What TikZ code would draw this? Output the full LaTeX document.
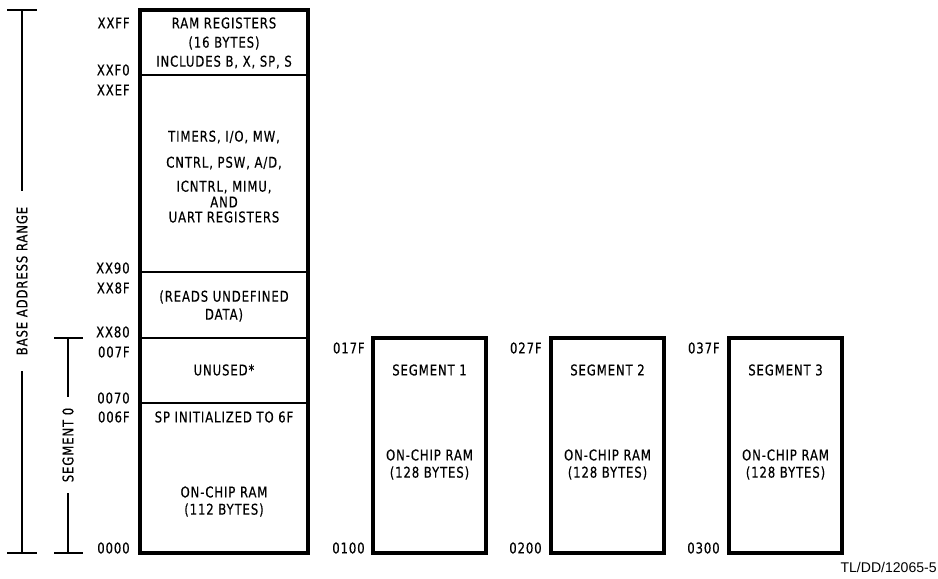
\documentclass[tikz,border=0pt]{standalone}
\usepackage{fontspec}
\usepackage{tikz}
\newfontfamily\cadfont[FakeStretch=0.79, LetterSpace=6, FakeBold=0.4]{DejaVu Sans}
\newfontfamily\tagfont{Liberation Sans}
\newcommand{\mapfont}{\cadfont\fontsize{8.4}{9}\selectfont}

\begin{document}
\begin{tikzpicture}[
  x=0.2mm, y=-0.2mm,
  every node/.style={font=\mapfont},
  addr/.style={anchor=east, inner sep=0pt},
  txt/.style={inner sep=0pt},
  outline/.style={line width=2.2pt},
  divider/.style={line width=1.3pt},
  bracketline/.style={line width=0.7pt},
  sidelabel/.style={rotate=90, inner sep=0pt}
]
  \useasboundingbox (0,0) rectangle (938,578);

  % base memory block
  \draw[outline] (140,10) rectangle (308,553);
  \draw[divider] (140,75) -- (308,75);
  \draw[divider] (140,272) -- (308,272);
  \draw[divider] (140,338) -- (308,338);
  \draw[divider] (140,403) -- (308,403);

  \node[txt] (regs1) at (224,23) {RAM REGISTERS};
  \node[txt] (regs2) at (224,43) {(16 BYTES)};
  \node[txt] (regs3) at (224,62) {INCLUDES B, X, SP, S};
  \node[txt] (io1) at (224,137) {TIMERS, I/O, MW,};
  \node[txt] (io2) at (224,163) {CNTRL, PSW, A/D,};
  \node[txt] (io3) at (224,187) {ICNTRL, MIMU,};
  \node[txt] (io4) at (224,202) {AND};
  \node[txt] (io5) at (224,217) {UART REGISTERS};
  \node[txt] (undef1) at (224,297) {(READS UNDEFINED};
  \node[txt] (undef2) at (224,315) {DATA)};
  \node[txt] (unused) at (224,370) {UNUSED*};
  \node[txt] (spinit) at (224,417) {SP INITIALIZED TO 6F};
  \node[txt] (ram1) at (224,492) {ON-CHIP RAM};
  \node[txt] (ram2) at (224,510) {(112 BYTES)};

  \node[addr] (xxff) at (130,23) {XXFF};
  \node[addr] (xxf0) at (130,70) {XXF0};
  \node[addr] (xxef) at (130,90) {XXEF};
  \node[addr] (xx90) at (130,268) {XX90};
  \node[addr] (xx8f) at (130,288) {XX8F};
  \node[addr] (xx80) at (130,332) {XX80};
  \node[addr] (a07f) at (130,352) {007F};
  \node[addr] (a070) at (130,398) {0070};
  \node[addr] (a06f) at (130,417) {006F};
  \node[addr] (a000) at (130,548) {0000};

  % segments 1 to 3
  \draw[outline] (373,338) rectangle (486,553);
  \draw[outline] (551,338) rectangle (664,553);
  \draw[outline] (729,338) rectangle (842,553);

  \node[txt] (seg1) at (429.5,370) {SEGMENT 1};
  \node[txt] (seg1a) at (429.5,455) {ON-CHIP RAM};
  \node[txt] (seg1b) at (429.5,473) {(128 BYTES)};
  \node[txt] (seg2) at (607.5,370) {SEGMENT 2};
  \node[txt] (seg2a) at (607.5,455) {ON-CHIP RAM};
  \node[txt] (seg2b) at (607.5,473) {(128 BYTES)};
  \node[txt] (seg3) at (785.5,370) {SEGMENT 3};
  \node[txt] (seg3a) at (785.5,455) {ON-CHIP RAM};
  \node[txt] (seg3b) at (785.5,473) {(128 BYTES)};

  \node[addr] (a17f) at (365,348) {017F};
  \node[addr] (a100) at (365,548) {0100};
  \node[addr] (a27f) at (542,348) {027F};
  \node[addr] (a200) at (542,548) {0200};
  \node[addr] (a37f) at (720,348) {037F};
  \node[addr] (a300) at (720,548) {0300};

  % range markers on the left
  \node[sidelabel] (base) at (22,281) {BASE ADDRESS RANGE};
  \coordinate (basetop) at (22,10);
  \coordinate (basebot) at (22,553);
  \draw[bracketline] (7,10) -- (37,10);
  \draw[bracketline] (7,553) -- (37,553);
  \draw[bracketline] (basetop) -- ([yshift=3mm]base.east);
  \draw[bracketline] (basebot) -- ([yshift=-3mm]base.west);

  \node[sidelabel] (seg0) at (68,445) {SEGMENT 0};
  \coordinate (segtop) at (68,338);
  \coordinate (segbot) at (68,553);
  \draw[bracketline] (54,338) -- (83,338);
  \draw[bracketline] (54,553) -- (83,553);
  \draw[bracketline] (segtop) -- ([yshift=2mm]seg0.east);
  \draw[bracketline] (segbot) -- ([yshift=-2mm]seg0.west);

  \node[anchor=east, inner sep=0pt, font=\tagfont\fontsize{8}{9}\selectfont] (tag) at (937,567) {TL/DD/12065-5};
\end{tikzpicture}
\end{document}
